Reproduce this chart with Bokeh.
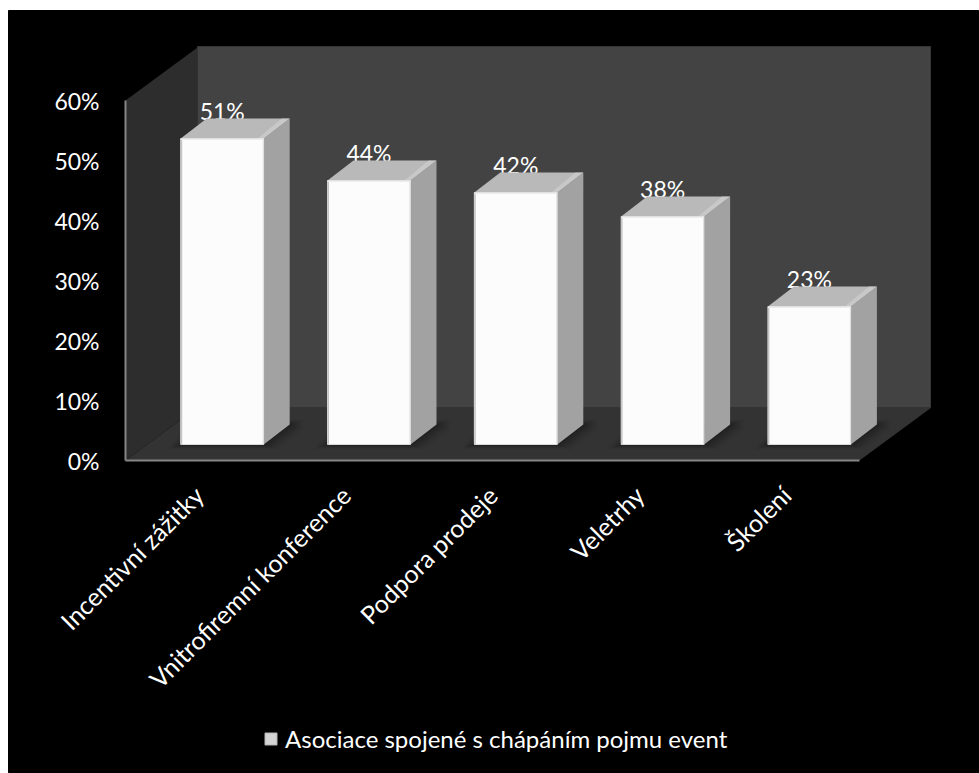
from bokeh.core.properties import value
from bokeh.embed import file_html
from bokeh.models import ColumnDataSource, FixedTicker, Legend, LegendItem, Range1d
from bokeh.plotting import figure
from bokeh.resources import INLINE
import math

categories = ["Incentivní zážitky", "Vnitrofiremní konference", "Podpora prodeje", "Veletrhy", "Školení"]
shares = [51, 44, 42, 38, 23]
y_ticks = [0, 10, 20, 30, 40, 50, 60]
series_name = "Asociace spojené s chápáním pojmu event"

FONT = "Lato"
WIDTH, HEIGHT = 971, 763
ORIGIN_X, ORIGIN_Y = 117, 450   # canvas pixel of the value axis / category axis crossing
PX_X = 146.8   # pixels per category band
PX_Y = 6.0     # pixels per percentage point


def ux(px):
    return px / PX_X


def uy(px):
    return px / PX_Y


# The plotting area fills the whole canvas, so axes and legend all live inside it.
p = figure(width=WIDTH, height=HEIGHT, margin=(10, 0, 0, 8), output_backend="svg", toolbar_location=None,
           x_range=Range1d(ux(-ORIGIN_X), ux(WIDTH - ORIGIN_X)),
           y_range=Range1d(uy(ORIGIN_Y - HEIGHT), uy(ORIGIN_Y)),
           min_border=0, background_fill_color="#000000", border_fill_color="#000000")
p.outline_line_color = "#000000"
p.grid.visible = False

# Box walls and floor
DEPTH_X, DEPTH_Y = ux(72), uy(53)
x_end = len(categories)
y_end = y_ticks[-1]
wall_top = uy(414)
wall_right = ux(805)
p.quad(left=[DEPTH_X], right=[wall_right], bottom=[DEPTH_Y], top=[wall_top], fill_color="#434343", line_color="#363636")
p.patch([0, DEPTH_X, DEPTH_X, 0], [0, DEPTH_Y, y_end + DEPTH_Y, y_end], fill_color="#2d2d2d", line_color=None)
p.patch([0, x_end, x_end + DEPTH_X, DEPTH_X], [0, 0, DEPTH_Y, DEPTH_Y], fill_color="#333333", line_color=None)

# Bar geometry
BAR_W = ux(83)
BAR_DX, BAR_DY = ux(26), uy(20)
BASE_Y = uy(16)
lefts = [i + ux(55.2) for i in range(len(shares))]
rights = [l + BAR_W for l in lefts]
bases = [BASE_Y] * len(shares)
tops = [BASE_Y + v for v in shares]

# Soft contact shadows on the floor
for grow, alpha in [(14, 0.03), (11, 0.05), (8, 0.07), (5, 0.09), (2, 0.12)]:
    xs, ys = [], []
    for l, r, b in zip(lefts, rights, bases):
        g = ux(grow)
        h = uy(grow * 0.35)
        xs.append([l - g, r + g, r + BAR_DX + g, r + BAR_DX + g, l + BAR_DX - g])
        ys.append([b - h, b - h, b + BAR_DY - h, b + BAR_DY + h, b + BAR_DY + h])
    p.patches(xs, ys, fill_color="#000000", fill_alpha=alpha, line_color=None)

# Value labels sit behind the bars, resting on the top face
label_source = ColumnDataSource(dict(
    x=[(l + r) / 2 for l, r in zip(lefts, rights)],
    y=tops,
    text=[f"{v}%" for v in shares],
))
p.text(x="x", y="y", text="text", source=label_source, text_color="#ffffff", text_font=value(FONT),
       text_font_size="23px", text_align="center", text_baseline="bottom", y_offset=-14)

# Right-hand side of each bar
p.patches([[r, r + BAR_DX, r + BAR_DX, r] for r in rights],
          [[b, b + BAR_DY, t + BAR_DY, t] for b, t in zip(bases, tops)],
          fill_color="#a2a2a2", line_color=None)

# Top of each bar, with its pale rim towards the right
p.patches([[l, r, r + BAR_DX, l + BAR_DX] for l, r in zip(lefts, rights)],
          [[t, t, t + BAR_DY, t + BAR_DY] for t in tops],
          fill_color="#b9b9b9", line_color=None)
p.patches([[r - ux(6), r, r + BAR_DX, r + BAR_DX - ux(8)] for r in rights],
          [[t, t, t + BAR_DY, t + BAR_DY] for t in tops],
          fill_color="#d0d0d0", fill_alpha=0.65, line_color=None)

# Grey under-layer of the fronts: gives a soft edge and supplies the legend key
bar_under = p.quad(left=lefts, right=rights, bottom=bases, top=tops, fill_color="#d4d4d4", line_color="#b4b4b4")

# Front of each bar
p.quad(left=lefts, right=rights, bottom=bases, top=tops, fill_color="#fcfcfc", line_color=None)
p.quad(left=lefts, right=[l + ux(1.5) for l in lefts], bottom=bases, top=tops, fill_color="#c4c4c4", line_color=None)
p.quad(left=[r - ux(1) for r in rights], right=rights, bottom=bases, top=tops, fill_color="#dddddd", line_color=None)
p.quad(left=lefts, right=rights, bottom=[t - uy(1.5) for t in tops], top=tops, fill_color="#ececec", line_color=None)

# Axes
AXIS_GREY = "#868686"
yaxis = p.yaxis[0]
yaxis.fixed_location = 0
yaxis.bounds = (y_ticks[0], y_ticks[-1])
yaxis.ticker = FixedTicker(ticks=y_ticks)
yaxis.major_label_overrides = {t: f"{t}%" for t in y_ticks}
yaxis.major_label_text_font = FONT
yaxis.major_label_text_font_size = "23px"
yaxis.major_label_text_color = "#ffffff"
yaxis.major_label_standoff = 20
yaxis.major_tick_line_color = None
yaxis.minor_tick_line_color = None
yaxis.axis_line_color = AXIS_GREY
yaxis.axis_line_width = 2

xaxis = p.xaxis[0]
xaxis.fixed_location = 0
xaxis.bounds = (0, x_end)
centres = [i + 0.5 for i in range(x_end)]
xaxis.ticker = FixedTicker(ticks=centres)
xaxis.major_label_overrides = dict(zip(centres, categories))
xaxis.major_label_orientation = math.pi / 4
xaxis.major_label_text_font = FONT
xaxis.major_label_text_font_size = "25px"
xaxis.major_label_text_color = "#ffffff"
xaxis.major_label_standoff = 24
xaxis.major_tick_line_color = None
xaxis.minor_tick_line_color = None
xaxis.axis_line_color = AXIS_GREY
xaxis.axis_line_width = 2

# Legend under the category labels
legend = Legend(items=[LegendItem(label=series_name, renderers=[bar_under])], location=(255, 20),
                background_fill_alpha=0, border_line_color=None, padding=0, margin=0,
                glyph_width=15, glyph_height=15, label_standoff=7,
                label_text_font=FONT, label_text_font_size="24px", label_text_color="#ffffff")
p.add_layout(legend, "center")

with open("out.html", "w") as fh:
    fh.write(file_html(p, INLINE))
